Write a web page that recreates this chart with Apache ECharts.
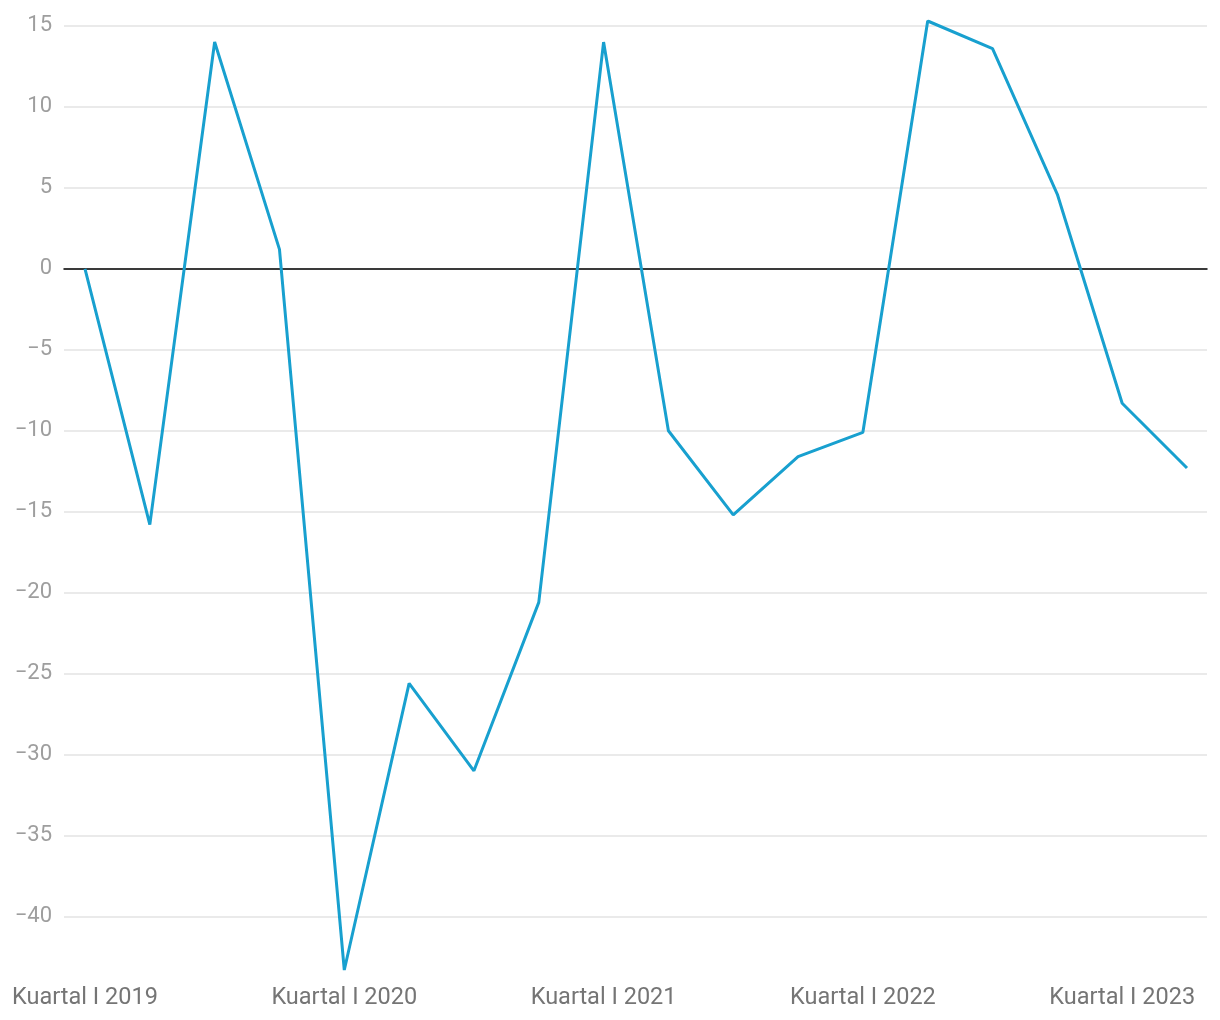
<!DOCTYPE html>
<html>
<head>
<meta charset="utf-8">
<script src="https://cdn.jsdelivr.net/npm/echarts@6/dist/echarts.min.js"></script>
<style>html,body{margin:0;padding:0;background:#fff}#c{width:1220px;height:1020px}</style>
</head>
<body>
<div id="c"></div>
<script>
const categories = [
  "Kuartal I 2019","Kuartal II 2019","Kuartal III 2019","Kuartal IV 2019",
  "Kuartal I 2020","Kuartal II 2020","Kuartal III 2020","Kuartal IV 2020",
  "Kuartal I 2021","Kuartal II 2021","Kuartal III 2021","Kuartal IV 2021",
  "Kuartal I 2022","Kuartal II 2022","Kuartal III 2022","Kuartal IV 2022",
  "Kuartal I 2023","Kuartal II 2023"
];
const values = [0, -15.8, 14.0, 1.2, -43.3, -25.6, -31.0, -20.6, 14.0, -10.0, -15.2, -11.6, -10.1, 15.3, 13.6, 4.6, -8.3, -12.3];
const yMin = -43.3, yMax = 15.3;

const chart = echarts.init(document.getElementById('c'), null, {renderer: 'canvas'});
const font = 'Roboto, "Noto Sans", sans-serif';
chart.setOption({
  animation: false,
  grid: [
    {left: 85, right: 33, top: 21, bottom: 50},
    {left: 64, right: 13, top: 21, bottom: 50}
  ],
  xAxis: [
    {
      gridIndex: 0, type: 'category', data: categories, boundaryGap: false,
      axisLine: {show: false}, axisTick: {show: false}, splitLine: {show: false},
      axisLabel: {interval: 3, color: '#757575', fontSize: 23.5, fontFamily: font, margin: 16}
    },
    {
      gridIndex: 1, type: 'value', min: 0, max: 1,
      axisLine: {show: true, onZero: true, lineStyle: {color: '#000', width: 1.5}},
      axisTick: {show: false}, axisLabel: {show: false}, splitLine: {show: false}
    }
  ],
  yAxis: [
    {
      gridIndex: 0, type: 'value', min: yMin, max: yMax,
      show: false, splitLine: {show: false}
    },
    {
      gridIndex: 1, type: 'value', min: yMin, max: yMax, splitNumber: 12,
      minInterval: 5, maxInterval: 5,
      axisLine: {show: false}, axisTick: {show: false},
      axisLabel: {
        showMinLabel: false, showMaxLabel: false,
        color: '#9e9e9e', fontSize: 22, fontFamily: font, margin: 12,
        formatter: v => (v % 5 === 0 ? String(v).replace('-', '\u2212') : '')
      },
      splitLine: {show: true, showMinLine: false, showMaxLine: false, lineStyle: {color: '#e3e3e3', width: 1.5}}
    }
  ],
  series: [
    {
      type: 'line', xAxisIndex: 0, yAxisIndex: 0, data: values,
      symbol: 'none', z: 5,
      lineStyle: {color: '#18a0cf', width: 3}
    }
  ]
});
</script>
</body>
</html>
